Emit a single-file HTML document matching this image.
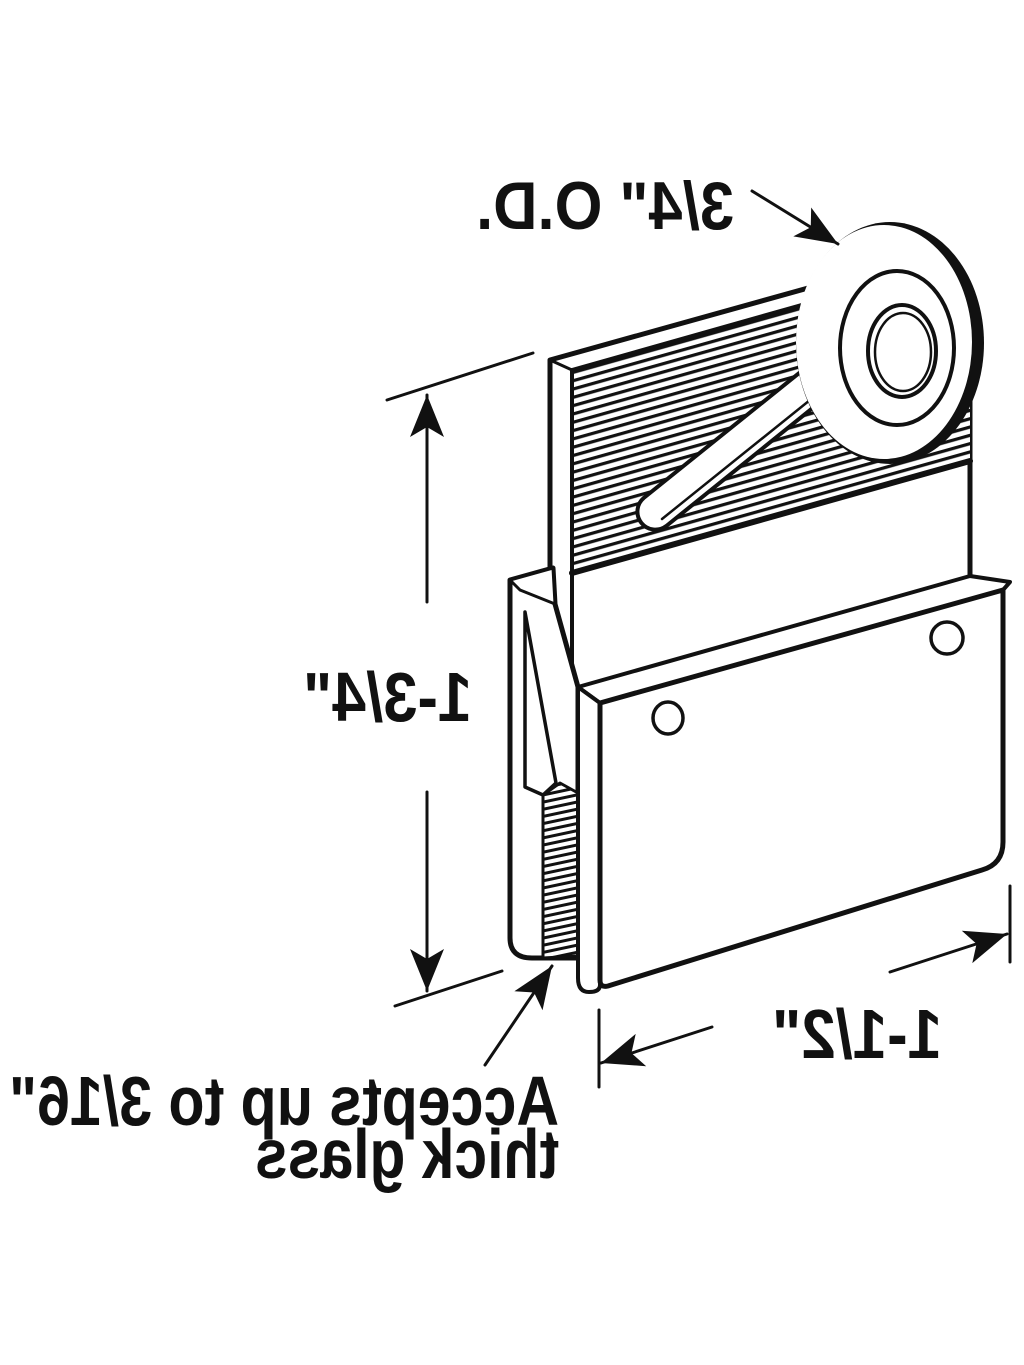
<!DOCTYPE html>
<html><head><meta charset="utf-8">
<style>
html,body{margin:0;padding:0;background:#fff;}
svg{display:block;}
text{font-family:"Liberation Sans Narrow","Liberation Sans",sans-serif;font-weight:bold;fill:#111;}
</style></head>
<body>
<svg width="1024" height="1365" viewBox="0 0 1024 1365" xmlns="http://www.w3.org/2000/svg">
<defs>
  <pattern id="h1" width="12" height="8" patternUnits="userSpaceOnUse" patternTransform="rotate(-15.7)">
    <rect width="12" height="8" fill="#fff"/>
    <rect y="0" width="12" height="3.2" fill="#111"/>
  </pattern>
  <pattern id="h2" width="12" height="7" patternUnits="userSpaceOnUse" patternTransform="rotate(-12)">
    <rect width="12" height="7" fill="#fff"/>
    <rect y="0" width="12" height="3" fill="#111"/>
  </pattern>
  <marker id="ar" markerUnits="userSpaceOnUse" markerWidth="60" markerHeight="50" refX="50" refY="20" orient="auto" viewBox="0 0 60 40">
    <path d="M50,20 L8,3 L18,20 L8,37 Z" fill="#111"/>
  </marker>
</defs>

<g stroke="#111" stroke-linejoin="round" stroke-linecap="round">
  <!-- back plate -->
  <polygon points="550,360 880,268 970,300 970,578 572,690 550,690" fill="#fff" stroke-width="5"/>
  <polygon points="572,370 880,284 970,300 970,460 572,572" fill="url(#h1)" stroke="none"/>
  <line x1="572" y1="370" x2="572" y2="690" stroke-width="4"/>
  <line x1="550" y1="360" x2="572" y2="370" stroke-width="3"/>
  <line x1="572" y1="370" x2="830" y2="297" stroke-width="4"/>
  <line x1="572" y1="573" x2="970" y2="461" stroke-width="6"/>

  <!-- arm capsule -->
  <path d="M643.7,498 L839,341 L861,369 L666.3,526 A18,18 0 0 1 643.7,498 Z" fill="#fff" stroke-width="4"/>
  <line x1="662" y1="519" x2="856" y2="363" stroke-width="2.5"/>

  <!-- wheel -->
  <ellipse cx="890" cy="343" rx="94" ry="121" fill="#111" stroke="none"/>
  <ellipse cx="884" cy="342" rx="88" ry="117" fill="#fff" stroke="none"/>
  <ellipse cx="897" cy="348" rx="57" ry="77" fill="none" stroke-width="4"/>
  <ellipse cx="902" cy="351" rx="34" ry="46" fill="none" stroke-width="4"/>
  <ellipse cx="903" cy="352" rx="28" ry="39" fill="none" stroke-width="2.5"/>

  <!-- left piece -->
  <path d="M510,580 L510,938 Q510,958 532,958 L578,958 L578,687 L555,604 L553,568 Z" fill="#fff" stroke-width="5"/>
  <polygon points="510,580 553,568 555,604 520,590" fill="#fff" stroke-width="3"/>
  <polygon points="543,795 560,783 578,793 578,956 543,958" fill="url(#h2)" stroke-width="3"/>
  <path d="M525,612 L525,787 L543,795 L556,783 Z" fill="#fff" stroke-width="3.5"/>

  <!-- front block -->
  <polygon points="578,687 970,576 1010,582 1003,590 600,703" fill="#fff" stroke-width="4"/>
  <path d="M578,687 L600,703 L600,985 Q600,992 589,992 Q578,992 578,978 Z" fill="#fff" stroke-width="4"/>
  <path d="M600,703 L1003,590 L1003,842 Q1003,864 982,870 L608,986 Q600,988 600,980 Z" fill="#fff" stroke-width="5"/>
  <ellipse cx="668" cy="718" rx="15" ry="16" fill="#fff" stroke-width="3.5"/>
  <ellipse cx="947" cy="638" rx="16" ry="16" fill="#fff" stroke-width="3.5"/>

  <!-- dimensions -->
  <line x1="387" y1="400" x2="533" y2="353" stroke-width="3"/>
  <line x1="427" y1="602" x2="427" y2="395" stroke-width="3" marker-end="url(#ar)"/>
  <line x1="427" y1="792" x2="427" y2="991" stroke-width="3" marker-end="url(#ar)"/>
  <line x1="395" y1="1006" x2="502" y2="971" stroke-width="3"/>

  <line x1="1010" y1="886" x2="1010" y2="962" stroke-width="3"/>
  <line x1="599" y1="1010" x2="599" y2="1087" stroke-width="3"/>
  <line x1="890" y1="972" x2="1007" y2="934" stroke-width="3" marker-end="url(#ar)"/>
  <line x1="712" y1="1027" x2="601" y2="1063" stroke-width="3" marker-end="url(#ar)"/>

  <line x1="752" y1="191" x2="838" y2="244" stroke-width="3" marker-end="url(#ar)"/>
  <line x1="485" y1="1065" x2="552" y2="966" stroke-width="3" marker-end="url(#ar)"/>
</g>

<!-- mirrored labels -->
<g transform="translate(1210,0) scale(-1,1)">
  <text x="476" y="229" font-size="68" textLength="258" lengthAdjust="spacingAndGlyphs">3/4" O.D.</text>
</g>
<g transform="translate(775,0) scale(-1,1)">
  <text x="303" y="721" font-size="70" textLength="169" lengthAdjust="spacingAndGlyphs">1-3/4"</text>
</g>
<g transform="translate(1714,0) scale(-1,1)">
  <text x="772" y="1058" font-size="70" textLength="170" lengthAdjust="spacingAndGlyphs">1-1/2"</text>
</g>
<g transform="translate(568,0) scale(-1,1)">
  <text x="9" y="1125" font-size="70" textLength="550" lengthAdjust="spacingAndGlyphs">Accepts up to 3/16"</text>
</g>
<g transform="translate(814,0) scale(-1,1)">
  <text x="255" y="1178" font-size="70" textLength="304" lengthAdjust="spacingAndGlyphs">thick glass</text>
</g>
</svg>
</body></html>
